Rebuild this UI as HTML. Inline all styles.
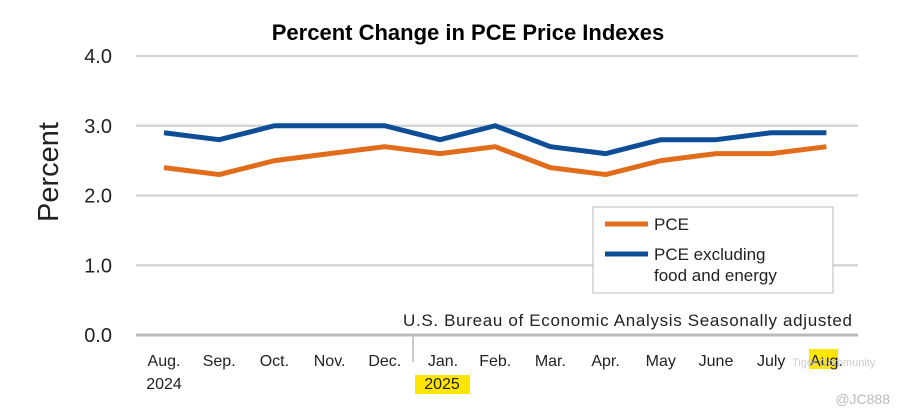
<!DOCTYPE html>
<html><head><meta charset="utf-8"><style>
html,body{margin:0;padding:0;background:#fff;}
svg{display:block;font-family:"Liberation Sans",sans-serif;}
</style></head><body>
<svg width="901" height="414" viewBox="0 0 901 414">
<rect x="415" y="375" width="55" height="19" fill="#ffe600"/>
<rect x="809" y="349" width="29" height="20" fill="#ffe600"/>
<text x="468" y="40" text-anchor="middle" font-size="22" font-weight="bold" fill="#000">Percent Change in PCE Price Indexes</text>
<text transform="translate(58,172) rotate(-90)" text-anchor="middle" font-size="29" fill="#222">Percent</text>
<g id="grid"></g>
<g id="yticks"></g>
<g id="xticks"></g>
<g id="lines"></g>
<text x="852" y="326" text-anchor="end" font-size="17" textLength="449" fill="#222">U.S. Bureau of Economic Analysis  Seasonally adjusted</text>
<g>
<rect x="593" y="207" width="240" height="86" fill="#fff" stroke="#bbb" stroke-width="1"/>
<line x1="605" y1="224" x2="648" y2="224" stroke="#e06c1c" stroke-width="5"/>
<text x="654" y="230" font-size="17" fill="#222">PCE</text>
<line x1="605" y1="254" x2="648" y2="254" stroke="#0d4e96" stroke-width="5"/>
<text x="654" y="260" font-size="17" fill="#222">PCE excluding</text>
<text x="654" y="281" font-size="17" fill="#222">food and energy</text>
</g>
<text x="164" y="389" text-anchor="middle" font-size="16" fill="#222">2024</text>
<text x="442" y="389" text-anchor="middle" font-size="16" fill="#222">2025</text>
<text x="890" y="404" text-anchor="end" font-size="14" fill="#bbb">@JC888</text>
<text x="792" y="366" font-size="11" fill="#ccc">Tiger Community</text>
</svg>
<script>
const months=["Aug.","Sep.","Oct.","Nov.","Dec.","Jan.","Feb.","Mar.","Apr.","May","June","July","Aug."];
const pce=[2.4,2.3,2.5,2.6,2.7,2.6,2.7,2.4,2.3,2.5,2.6,2.6,2.7];
const core=[2.9,2.8,3.0,3.0,3.0,2.8,3.0,2.7,2.6,2.8,2.8,2.9,2.9];
const yTicks=["0.0","1.0","2.0","3.0","4.0"];
const NS="http://www.w3.org/2000/svg";
const x=i=>164+i*55.2;
const y=v=>335-v*69.75;
function mk(t,a,p){const e=document.createElementNS(NS,t);for(const k in a)e.setAttribute(k,a[k]);p.appendChild(e);return e;}
const grid=document.getElementById('grid'),yt=document.getElementById('yticks'),xt=document.getElementById('xticks'),ln=document.getElementById('lines');
yTicks.forEach(t=>{const v=parseFloat(t);
 const g=mk('line',{x1:136,x2:858,y1:y(v),y2:y(v),stroke:v===0?'#bbb':'#d6d6d6','stroke-width':v===0?3:2.5},grid);
 
 
 const tx=mk('text',{x:112,y:y(v)+7,'text-anchor':'end','font-size':20,fill:'#222'},yt);tx.textContent=t;
 
 
});
mk('line',{x1:413,x2:413,y1:336,y2:362,stroke:'#ccc','stroke-width':2},grid);
months.forEach((m,i)=>{
 const t=mk('text',{x:x(i)+(i===5?3:0),y:366,'text-anchor':'middle','font-size':16,fill:'#222'},xt);t.textContent=m;
 
 
});
function line(d,c,n){const p=mk('polyline',{points:d.map((v,i)=>x(i)+','+y(v)).join(' '),fill:'none',stroke:c,'stroke-width':5,'stroke-linejoin':'round'},ln);
 
 }
line(pce,'#e06c1c','pce-line');
line(core,'#0d4e96','core-pce-line');
</script>
</body></html>
